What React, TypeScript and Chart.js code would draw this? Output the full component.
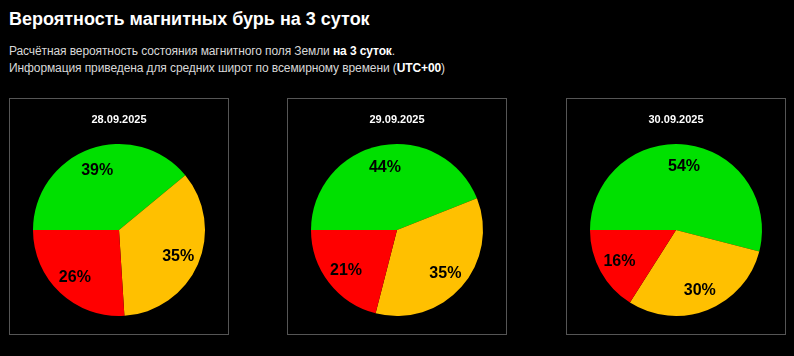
import React, { useEffect, useRef } from "react";
import { Chart, registerables } from "chart.js";

Chart.register(...registerables);

const categories = ["Спокойно", "Возмущение", "Буря"];
const dates = ["28.09.2025", "29.09.2025", "30.09.2025"];
const day1 = [39, 35, 26];
const day2 = [44, 35, 21];
const day3 = [54, 30, 16];
const seriesByDay = [day1, day2, day3];
const sliceColors = ["#00e000", "#ffc000", "#ff0000"];

const FONT = "'Liberation Sans', Arial, Helvetica, sans-serif";

const labelPlugin = {
  id: "sliceLabels",
  afterDatasetsDraw(chart: any) {
    const ctx = chart.ctx;
    const meta = chart.getDatasetMeta(0);
    const data = chart.data.datasets[0].data as number[];
    ctx.save();
    ctx.font = `bold 16px ${FONT}`;
    ctx.fillStyle = "#000";
    ctx.textAlign = "center";
    ctx.textBaseline = "middle";
    meta.data.forEach((arc: any, i: number) => {
      const p = arc.getProps(["x", "y", "startAngle", "endAngle", "outerRadius"], true);
      const mid = (p.startAngle + p.endAngle) / 2;
      const r = p.outerRadius * 0.75;
      ctx.fillText(`${data[i]}%`, p.x + Math.cos(mid) * r, p.y + Math.sin(mid) * r + 1);
    });
    ctx.restore();
  },
};

function PieBox({ date, values, left }: { date: string; values: number[]; left: number }) {
  const ref = useRef<HTMLCanvasElement>(null);
  useEffect(() => {
    const chart = new Chart(ref.current!, {
      type: "pie",
      data: {
        labels: categories,
        datasets: [
          {
            data: values,
            backgroundColor: sliceColors,
            borderWidth: 0,
          },
        ],
      },
      options: {
        animation: false,
        responsive: false,
        rotation: -90,
        layout: { padding: { top: 0, bottom: 18, left: 0, right: 0 } },
        plugins: {
          legend: { display: false },
          tooltip: { enabled: false },
          title: {
            display: true,
            text: date,
            color: "#ffffff",
            font: { family: FONT, size: 11, weight: "bold" },
            padding: { top: 14, bottom: 17.8 },
          },
        },
      },
      plugins: [labelPlugin],
    });
    return () => chart.destroy();
  }, [date, values]);
  return (
    <div
      style={{
        position: "absolute",
        left,
        top: 98,
        width: 218,
        height: 235,
        border: "1px solid #555",
      }}
    >
      <canvas ref={ref} width={218} height={235} style={{ display: "block" }} />
    </div>
  );
}

export default function App() {
  useEffect(() => {
    document.body.style.margin = "0";
    document.body.style.background = "#000";
  }, []);
  const lefts = [9, 287, 566];
  return (
    <div
      style={{
        position: "relative",
        width: 794,
        height: 356,
        background: "#000",
        fontFamily: FONT,
        overflow: "hidden",
      }}
    >
      <div
        style={{
          position: "absolute",
          left: 9,
          top: 9,
          fontSize: 18,
          lineHeight: "20px",
          fontWeight: "bold",
          color: "#fff",
          whiteSpace: "nowrap",
        }}
      >
        Вероятность магнитных бурь на 3 суток
      </div>
      <div
        style={{
          position: "absolute",
          left: 9,
          top: 43,
          fontSize: 12,
          lineHeight: "17px",
          letterSpacing: "-0.1px",
          color: "#d8d8d8",
          whiteSpace: "nowrap",
        }}
      >
        Расчётная вероятность состояния магнитного поля Земли{" "}
        <b style={{ color: "#fff" }}>на 3 суток</b>.
        <br />
        Информация приведена для средних широт по всемирному времени (
        <b style={{ color: "#fff" }}>UTC+00</b>)
      </div>
      {dates.map((d, i) => (
        <PieBox key={d} date={d} values={seriesByDay[i]} left={lefts[i]} />
      ))}
    </div>
  );
}
